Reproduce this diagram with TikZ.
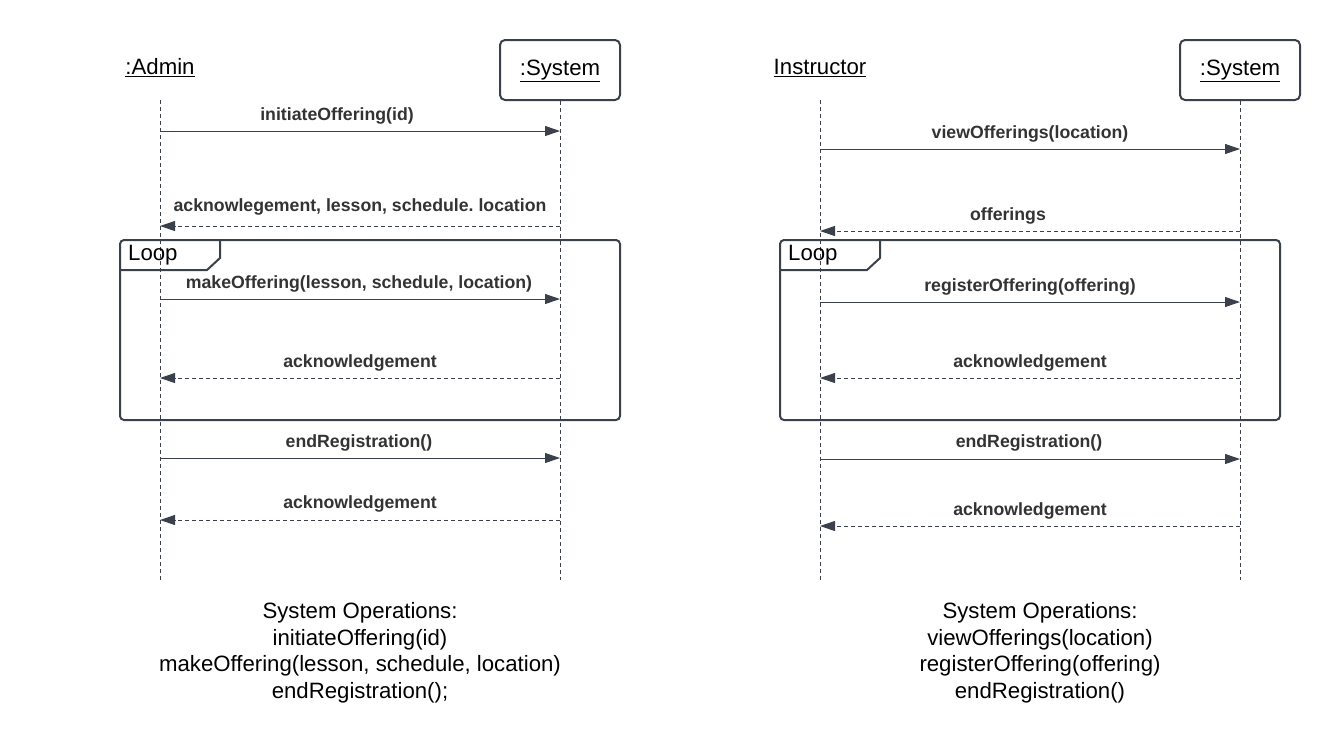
\documentclass[tikz,border=0pt]{standalone}
\usepackage{fontspec}
\setmainfont{Liberation Sans}
\usetikzlibrary{arrows.meta}
\definecolor{ln}{HTML}{3A414A}
\definecolor{tx}{HTML}{333333}
\frenchspacing
\begin{document}
\begin{tikzpicture}[x=1pt,y=-1pt,
  lifeline/.style={draw=ln,line width=0.8pt,dash pattern=on 4pt off 3pt},
  call/.style={draw=ln,line width=1pt,-{Triangle[length=15pt,width=10pt]}},
  reply/.style={draw=ln,line width=1pt,dash pattern=on 4pt off 3pt,-{Triangle[length=15pt,width=10pt]}},
  msg/.style={font=\fontsize{17.7}{21}\selectfont\bfseries,text=tx,inner sep=0pt},
  head/.style={font=\fontsize{22.2}{26}\selectfont,text=black,inner sep=0pt},
  sysbox/.style={draw=ln,line width=2pt,rounded corners=5pt,minimum width=120pt,minimum height=60pt},
  frame/.style={draw=ln,line width=2pt,rounded corners=4pt},
  looplbl/.style={anchor=west,font=\fontsize{22.2}{26}\selectfont,inner sep=0pt},
  ops/.style={font=\fontsize{22.2}{26.7}\selectfont,align=center,inner sep=0pt,text=black}]
\useasboundingbox (0,0) rectangle (1340,740);
% ---------- left diagram ----------
\node[head] (admin) at (160,68) {\underline{:Admin}};
\node[sysbox] (sysA) at (560,70) {};
\node[head] (sysAt) at (560,71) {\underline{:System}};
\coordinate (a0) at (160,100); \coordinate (a1) at (160,580);
\coordinate (s1) at (560,580);
\draw[lifeline] (a0) -- (a1);
\draw[lifeline] (sysA.south) -- (s1);
\draw[frame] (120,240) rectangle (620,420);
\draw[draw=ln,line width=2pt] (121,270) -- (207,270) -- (220,258) -- (220,241);
\node[looplbl] (loopA) at (128,255) {Loop};
\foreach \n/\y in {1/131,2/226,3/299,4/378,5/458,6/520}{
  \coordinate (al\n) at (160,\y); \coordinate (sl\n) at (560,\y);}
\draw[call] (al1) -- (sl1);
\draw[reply] (sl2) -- (al2);
\draw[call] (al3) -- (sl3);
\draw[reply] (sl4) -- (al4);
\draw[call] (al5) -- (sl5);
\draw[reply] (sl6) -- (al6);
\node[msg] (m1) at (337,115.5) {initiateOffering(id)};
\node[msg] (m2) at (360,206.5) {acknowlegement, lesson, schedule. location};
\node[msg] (m3) at (359,283.5) {makeOffering(lesson, schedule, location)};
\node[msg] (m4) at (360,362.5) {acknowledgement};
\node[msg] (m5) at (359,442.5) {endRegistration()};
\node[msg] (m6) at (360,504) {acknowledgement};
\node[ops,anchor=north] (opsA) at (360,602) {System Operations:\\initiateOffering(id)\\makeOffering(lesson, schedule, location)\\endRegistration();};
% ---------- right diagram ----------
\node[head] (instr) at (820,68) {\underline{Instructor}};
\node[sysbox] (sysB) at (1240,70) {};
\node[head] (sysBt) at (1240,71) {\underline{:System}};
\coordinate (i0) at (820,100); \coordinate (i1) at (820,580);
\coordinate (t1) at (1240,580);
\draw[lifeline] (i0) -- (i1);
\draw[lifeline] (sysB.south) -- (t1);
\draw[frame] (780,240) rectangle (1280,420);
\draw[draw=ln,line width=2pt] (781,270) -- (867,270) -- (880,258) -- (880,241);
\node[looplbl] (loopB) at (788,255) {Loop};
\foreach \n/\y in {1/149,2/231,3/302,4/378,5/459,6/526}{
  \coordinate (il\n) at (820,\y); \coordinate (tl\n) at (1240,\y);}
\draw[call] (il1) -- (tl1);
\draw[reply] (tl2) -- (il2);
\draw[call] (il3) -- (tl3);
\draw[reply] (tl4) -- (il4);
\draw[call] (il5) -- (tl5);
\draw[reply] (tl6) -- (il6);
\node[msg] (n1) at (1030,133.5) {viewOfferings(location)};
\node[msg] (n2) at (1008,215.5) {offerings};
\node[msg] (n3) at (1030,286.5) {registerOffering(offering)};
\node[msg] (n4) at (1030,362.5) {acknowledgement};
\node[msg] (n5) at (1029,442.5) {endRegistration()};
\node[msg] (n6) at (1030,510.5) {acknowledgement};
\node[ops,anchor=north] (opsB) at (1040,602) {System Operations:\\viewOfferings(location)\\registerOffering(offering)\\endRegistration()};
\end{tikzpicture}
\end{document}
